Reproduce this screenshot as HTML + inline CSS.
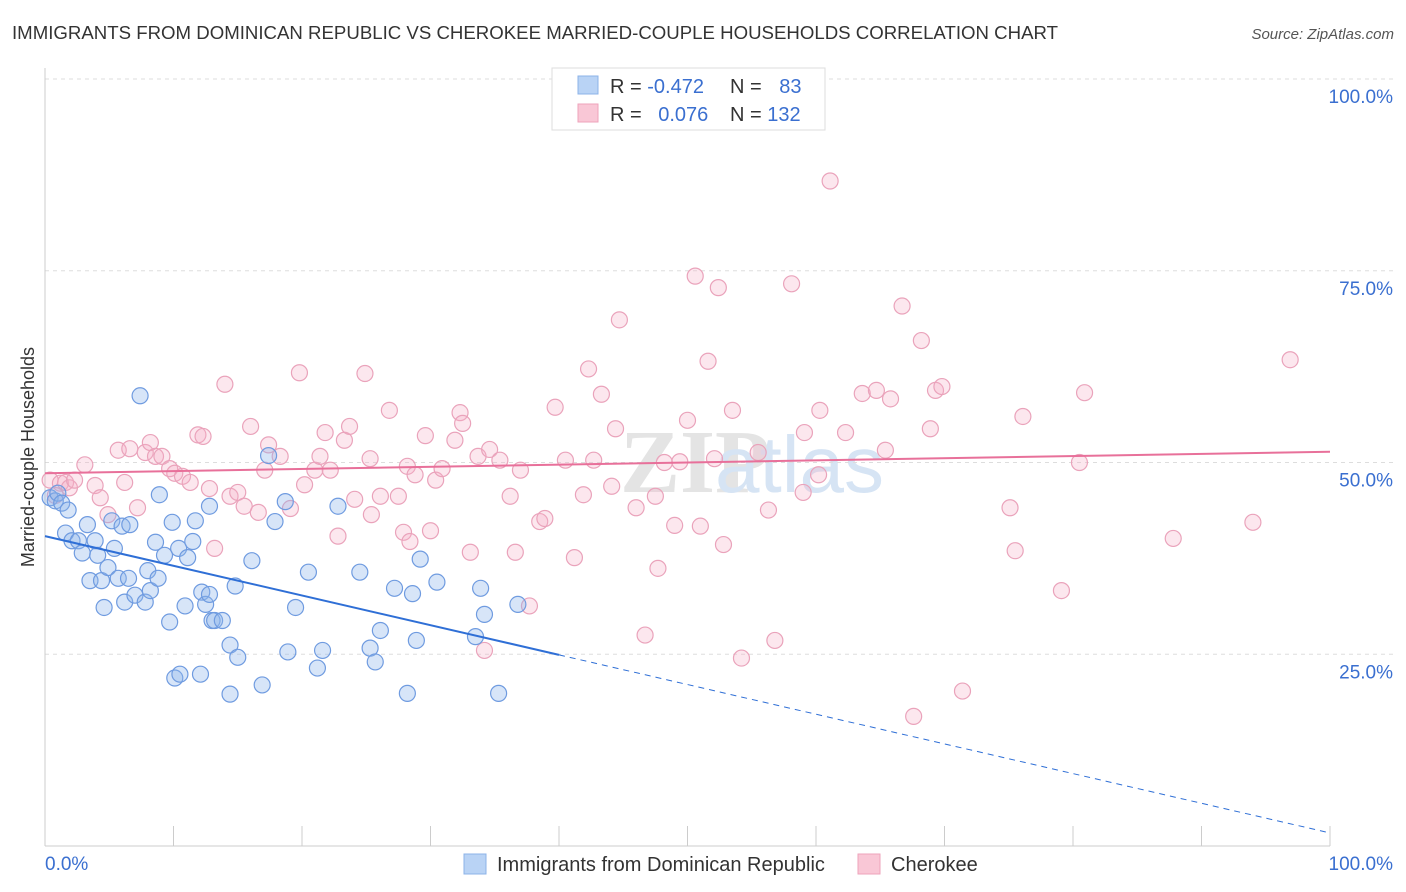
<!DOCTYPE html>
<html><head><meta charset="utf-8">
<style>
body{margin:0;background:#fff;font-family:"Liberation Sans",sans-serif;}
#wrap{position:relative;width:1406px;height:892px;overflow:hidden;}
</style></head>
<body>
<div id="wrap">
<svg id="chart" width="1406" height="892" xmlns="http://www.w3.org/2000/svg">
<text x="12" y="39" font-size="18" fill="#333" textLength="1046" lengthAdjust="spacingAndGlyphs">IMMIGRANTS FROM DOMINICAN REPUBLIC VS CHEROKEE MARRIED-COUPLE HOUSEHOLDS CORRELATION CHART</text>
<text x="1394" y="39" font-size="15" fill="#555" font-style="italic" text-anchor="end">Source: ZipAtlas.com</text>
<text x="34" y="457" font-size="18" fill="#333" text-anchor="middle" transform="rotate(-90 34 457)">Married-couple Households</text>
<text x="620" y="492" font-size="90" fill="#e4e4e4" font-family="Liberation Serif,serif" font-weight="bold">ZIP</text>
<text x="715" y="492" font-size="80" fill="#d6e4f4">atlas</text>
<g id="grid"></g><g id="axes"></g><g id="pts"></g><g id="lines"></g>
<g>
<rect x="552" y="68" width="273" height="62" fill="#fff" stroke="#ddd"/>
<rect x="578" y="76" width="20" height="18" fill="#b9d3f5" stroke="#8cb3e8"/>
<rect x="578" y="104" width="20" height="18" fill="#f9c7d6" stroke="#eea3bb"/>
<text x="610" y="93" font-size="20" fill="#333">R = <tspan fill="#3a6fd0">-0.472</tspan></text>
<text x="730" y="93" font-size="20" fill="#333">N = <tspan fill="#3a6fd0" dx="12">83</tspan></text>
<text x="610" y="121" font-size="20" fill="#333">R = <tspan fill="#3a6fd0" dx="11">0.076</tspan></text>
<text x="730" y="121" font-size="20" fill="#333">N = <tspan fill="#3a6fd0">132</tspan></text>
</g>
<g>
<rect x="464" y="854" width="22" height="20" fill="#b9d3f5" stroke="#8cb3e8"/>
<text x="497" y="871" font-size="20" fill="#333">Immigrants from Dominican Republic</text>
<rect x="858" y="854" width="22" height="20" fill="#f9c7d6" stroke="#eea3bb"/>
<text x="891" y="871" font-size="20" fill="#333">Cherokee</text>
</g>
</svg>
</div>
<script>
const yTicks=[25,50,75,100];
const yTickLabels=["25.0%","50.0%","75.0%","100.0%"];
const xTicks=[0,10,20,30,40,50,60,70,80,90,100];
const blueX=[0.4,0.8,1.0,1.3,1.8,1.6,2.1,2.6,2.9,3.3,3.5,3.9,4.1,4.4,4.6,4.9,5.2,5.4,5.7,6.0,6.2,6.5,6.6,7.0,7.4,7.8,8.0,8.2,8.6,8.8,8.9,9.3,9.7,9.9,10.1,10.4,10.5,10.9,11.1,11.5,11.7,12.1,12.2,12.5,12.8,13.0,13.2,13.8,12.8,14.4,14.4,14.8,15.0,16.1,16.9,17.4,17.9,18.7,18.9,19.5,20.5,21.2,21.6,22.8,24.5,25.3,25.7,26.1,27.2,28.2,28.6,28.9,29.2,30.5,33.5,33.9,34.2,35.3,36.8];
const blueY=[45.4,45.0,46.0,44.7,43.8,40.8,39.8,39.8,38.2,41.9,34.6,39.8,37.9,34.6,31.1,36.3,42.4,38.8,34.9,41.7,31.8,34.9,41.9,32.7,58.7,31.8,35.9,33.3,39.6,34.9,45.8,37.9,29.2,42.2,21.9,38.8,22.4,31.3,37.6,39.7,42.4,22.4,33.1,31.5,32.8,29.4,29.4,29.4,44.3,26.2,19.8,33.9,24.6,37.2,21.0,50.9,42.3,44.9,25.3,31.1,35.7,23.2,25.5,44.3,35.7,25.8,24.0,28.1,33.6,19.9,32.9,26.8,37.4,34.4,27.3,33.6,30.2,19.9,31.5];
const pinkX=[0.4,0.8,1.2,1.6,1.9,2.3,3.1,3.9,4.3,4.9,5.7,6.2,6.6,7.2,7.8,8.2,8.6,9.1,9.7,10.1,10.7,11.3,11.9,12.3,12.8,13.2,14.0,14.4,15.0,15.5,16.0,16.6,17.1,17.4,18.3,19.1,19.8,20.2,21.0,21.4,21.8,22.2,22.8,23.3,23.7,24.1,24.9,25.3,25.4,26.1,27.5,26.8,27.9,28.2,28.4,28.8,29.6,30.0,30.4,30.9,31.9,32.3,32.5,33.1,33.7,34.2,34.6,35.4,36.2,36.6,37.0,37.7,38.5,38.9,39.7,40.5,41.2,41.9,42.3,42.7,43.3,44.1,44.4,44.7,46.0,46.7,47.5,47.7,48.2,49.0,49.4,50.0,50.6,51.0,51.6,52.1,52.4,52.8,53.5,54.2,55.5,56.3,56.8,58.1,59.0,59.1,60.2,61.1,62.3,63.6,64.7,65.8,66.7,67.6,68.2,68.9,69.3,69.8,71.4,75.1,75.5,76.1,79.1,80.5,80.9,87.8,94.0,96.9,65.4,60.3];
const pinkY=[47.7,45.7,47.3,47.4,46.7,47.7,49.7,47.0,45.4,43.2,51.6,47.4,51.8,44.1,51.3,52.6,50.8,50.8,49.2,48.6,48.2,47.4,53.6,53.4,46.6,38.8,60.2,45.6,46.1,44.3,54.7,43.5,49.0,52.3,50.8,44.0,61.7,47.1,49.0,50.8,53.9,49.0,40.4,52.9,54.7,45.2,61.6,50.5,43.2,45.6,45.6,56.8,40.9,49.5,39.7,48.4,53.5,41.1,47.7,49.2,52.9,56.5,55.1,38.3,50.8,25.5,51.7,50.3,45.6,38.3,49.0,31.3,42.3,42.7,57.2,50.3,37.6,45.8,62.2,50.3,58.9,46.9,54.4,68.6,44.1,27.5,45.6,36.2,50.0,41.8,50.1,55.5,74.3,41.7,63.2,50.5,72.8,39.3,56.8,24.5,51.3,43.8,26.8,73.3,46.1,53.9,48.4,86.7,53.9,59.0,59.4,58.3,70.4,16.9,65.9,54.4,59.4,59.9,20.2,44.1,38.5,56.0,33.3,50.0,59.1,40.1,42.2,63.4,51.6,56.8];
const blueTrend=[40.4,1.7];
const pinkTrend=[48.6,51.4];
const blueSolidEnd=40;

const NS="http://www.w3.org/2000/svg";
const X0=45,X1=1330,Y0=846,Y100=79;
function sx(v){return X0+(X1-X0)*v/100;}
function sy(v){return Y0-(Y0-Y100)*v/100;}
function mk(tag,attrs,parent){const e=document.createElementNS(NS,tag);for(const k in attrs)e.setAttribute(k,attrs[k]);parent.appendChild(e);return e;}
const grid=document.getElementById('grid'),axes=document.getElementById('axes'),pts=document.getElementById('pts'),lines=document.getElementById('lines');
yTicks.forEach((t,i)=>{
  const l=mk('line',{x1:X0,x2:1394,y1:sy(t),y2:sy(t),stroke:'#ddd','stroke-dasharray':'4,4'},grid);
  
  
  const tx=mk('text',{x:1393,y:sy(t)+24,'font-size':19,fill:'#3a6fd0','text-anchor':'end'},axes);
  tx.textContent=yTickLabels[i];
  
  
});
const ya=mk('line',{x1:X0,x2:X0,y1:68,y2:Y0,stroke:'#ccc'},axes);


const xa=mk('line',{x1:X0,x2:X1,y1:Y0,y2:Y0,stroke:'#ccc'},axes);


xTicks.forEach(t=>{
  const l=mk('line',{x1:sx(t),x2:sx(t),y1:Y0-20,y2:Y0,stroke:'#ccc'},axes);
  
  
});
const xl0=mk('text',{x:45,y:870,'font-size':19,fill:'#3a6fd0'},axes);xl0.textContent='0.0%';


const xl1=mk('text',{x:1393,y:870,'font-size':19,fill:'#3a6fd0','text-anchor':'end'},axes);xl1.textContent='100.0%';


pinkX.forEach((v,i)=>{
  const c=mk('circle',{cx:sx(v),cy:sy(pinkY[i]),r:8,fill:'rgba(246,175,198,0.3)',stroke:'#eaa3bb','stroke-width':1.2},pts);
  
  
});
blueX.forEach((v,i)=>{
  const c=mk('circle',{cx:sx(v),cy:sy(blueY[i]),r:8,fill:'rgba(140,180,235,0.35)',stroke:'#6f9be0','stroke-width':1.2},pts);
  
  
});
function by(x){return blueTrend[0]+(blueTrend[1]-blueTrend[0])*x/100;}
const bl=mk('line',{x1:sx(0),y1:sy(by(0)),x2:sx(blueSolidEnd),y2:sy(by(blueSolidEnd)),stroke:'#2f6fd6','stroke-width':2},lines);


const bd=mk('line',{x1:sx(blueSolidEnd),y1:sy(by(blueSolidEnd)),x2:sx(100),y2:sy(by(100)),stroke:'#2f6fd6','stroke-width':1,'stroke-dasharray':'6,5'},lines);


const pl=mk('line',{x1:sx(0),y1:sy(pinkTrend[0]),x2:sx(100),y2:sy(pinkTrend[1]),stroke:'#e8709a','stroke-width':2},lines);


</script>
</body></html>
